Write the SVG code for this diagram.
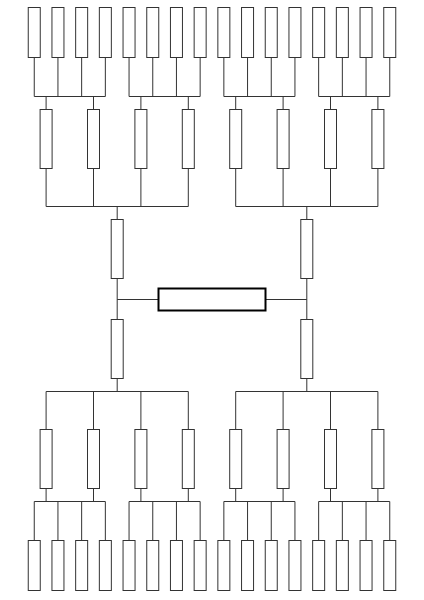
<svg xmlns="http://www.w3.org/2000/svg" width="424" height="600" viewBox="0 0 424 600">
<style>
.b{fill:#fff;stroke:#333;stroke-width:1}
.c{fill:#fff;stroke:#000;stroke-width:2}
.w{fill:none;stroke:#333;stroke-width:1}
</style>
<rect width="424" height="600" fill="#fff"/>
<g id="connectors" class="w">
<path d="M34.25 57.5V96.5M57.95 57.5V96.5M81.65 57.5V96.5M105.35 57.5V96.5M129.05 57.5V96.5M152.75 57.5V96.5M176.45 57.5V96.5M200.15 57.5V96.5M223.85 57.5V96.5M247.55 57.5V96.5M271.25 57.5V96.5M294.95 57.5V96.5M318.65 57.5V96.5M342.35 57.5V96.5M366.05 57.5V96.5M389.75 57.5V96.5"/>
<path d="M34.25 96.5H105.35M129.05 96.5H200.15M223.85 96.5H294.95M318.65 96.5H389.75"/>
<path d="M46.1 96.5V109.5M93.5 96.5V109.5M140.9 96.5V109.5M188.3 96.5V109.5M235.7 96.5V109.5M283.1 96.5V109.5M330.5 96.5V109.5M377.9 96.5V109.5"/>
<path d="M46.1 168.5V206.5M93.5 168.5V206.5M140.9 168.5V206.5M188.3 168.5V206.5M235.7 168.5V206.5M283.1 168.5V206.5M330.5 168.5V206.5M377.9 168.5V206.5"/>
<path d="M46.1 206.5H188.3M235.7 206.5H377.9M117.2 206.5V219.5M306.8 206.5V219.5"/>
<path d="M117.2 278.5V319.5M306.8 278.5V319.5M117.2 299.5H158.5M265.5 299.5H306.8"/>
<path d="M117.2 378.5V391.5M306.8 378.5V391.5M46.1 391.5H188.3M235.7 391.5H377.9"/>
<path d="M46.1 391.5V429.5M93.5 391.5V429.5M140.9 391.5V429.5M188.3 391.5V429.5M235.7 391.5V429.5M283.1 391.5V429.5M330.5 391.5V429.5M377.9 391.5V429.5"/>
<path d="M46.1 488.5V501.5M93.5 488.5V501.5M140.9 488.5V501.5M188.3 488.5V501.5M235.7 488.5V501.5M283.1 488.5V501.5M330.5 488.5V501.5M377.9 488.5V501.5"/>
<path d="M34.25 501.5H105.35M129.05 501.5H200.15M223.85 501.5H294.95M318.65 501.5H389.75"/>
<path d="M34.25 501.5V540.5M57.95 501.5V540.5M81.65 501.5V540.5M105.35 501.5V540.5M129.05 501.5V540.5M152.75 501.5V540.5M176.45 501.5V540.5M200.15 501.5V540.5M223.85 501.5V540.5M247.55 501.5V540.5M271.25 501.5V540.5M294.95 501.5V540.5M318.65 501.5V540.5M342.35 501.5V540.5M366.05 501.5V540.5M389.75 501.5V540.5"/>
</g>
<g id="top-leaves">
<rect id="t1" class="b" x="28.25" y="7.5" width="12" height="50"/>
<rect id="t2" class="b" x="51.95" y="7.5" width="12" height="50"/>
<rect id="t3" class="b" x="75.65" y="7.5" width="12" height="50"/>
<rect id="t4" class="b" x="99.35" y="7.5" width="12" height="50"/>
<rect id="t5" class="b" x="123.05" y="7.5" width="12" height="50"/>
<rect id="t6" class="b" x="146.75" y="7.5" width="12" height="50"/>
<rect id="t7" class="b" x="170.45" y="7.5" width="12" height="50"/>
<rect id="t8" class="b" x="194.15" y="7.5" width="12" height="50"/>
<rect id="t9" class="b" x="217.85" y="7.5" width="12" height="50"/>
<rect id="t10" class="b" x="241.55" y="7.5" width="12" height="50"/>
<rect id="t11" class="b" x="265.25" y="7.5" width="12" height="50"/>
<rect id="t12" class="b" x="288.95" y="7.5" width="12" height="50"/>
<rect id="t13" class="b" x="312.65" y="7.5" width="12" height="50"/>
<rect id="t14" class="b" x="336.35" y="7.5" width="12" height="50"/>
<rect id="t15" class="b" x="360.05" y="7.5" width="12" height="50"/>
<rect id="t16" class="b" x="383.75" y="7.5" width="12" height="50"/>
</g>
<g id="top-mid">
<rect id="tm1" class="b" x="40.1" y="109.5" width="12" height="59"/>
<rect id="tm2" class="b" x="87.5" y="109.5" width="12" height="59"/>
<rect id="tm3" class="b" x="134.9" y="109.5" width="12" height="59"/>
<rect id="tm4" class="b" x="182.3" y="109.5" width="12" height="59"/>
<rect id="tm5" class="b" x="229.7" y="109.5" width="12" height="59"/>
<rect id="tm6" class="b" x="277.1" y="109.5" width="12" height="59"/>
<rect id="tm7" class="b" x="324.5" y="109.5" width="12" height="59"/>
<rect id="tm8" class="b" x="371.9" y="109.5" width="12" height="59"/>
</g>
<g id="semi">
<rect id="s1" class="b" x="111.2" y="219.5" width="12" height="59"/>
<rect id="s2" class="b" x="300.8" y="219.5" width="12" height="59"/>
<rect id="s3" class="b" x="111.2" y="319.5" width="12" height="59"/>
<rect id="s4" class="b" x="300.8" y="319.5" width="12" height="59"/>
</g>
<g id="final">
<rect id="center" class="c" x="158.5" y="288.5" width="107" height="22"/>
</g>
<g id="bottom-mid">
<rect id="bm1" class="b" x="40.1" y="429.5" width="12" height="59"/>
<rect id="bm2" class="b" x="87.5" y="429.5" width="12" height="59"/>
<rect id="bm3" class="b" x="134.9" y="429.5" width="12" height="59"/>
<rect id="bm4" class="b" x="182.3" y="429.5" width="12" height="59"/>
<rect id="bm5" class="b" x="229.7" y="429.5" width="12" height="59"/>
<rect id="bm6" class="b" x="277.1" y="429.5" width="12" height="59"/>
<rect id="bm7" class="b" x="324.5" y="429.5" width="12" height="59"/>
<rect id="bm8" class="b" x="371.9" y="429.5" width="12" height="59"/>
</g>
<g id="bottom-leaves">
<rect id="b1" class="b" x="28.25" y="540.5" width="12" height="50"/>
<rect id="b2" class="b" x="51.95" y="540.5" width="12" height="50"/>
<rect id="b3" class="b" x="75.65" y="540.5" width="12" height="50"/>
<rect id="b4" class="b" x="99.35" y="540.5" width="12" height="50"/>
<rect id="b5" class="b" x="123.05" y="540.5" width="12" height="50"/>
<rect id="b6" class="b" x="146.75" y="540.5" width="12" height="50"/>
<rect id="b7" class="b" x="170.45" y="540.5" width="12" height="50"/>
<rect id="b8" class="b" x="194.15" y="540.5" width="12" height="50"/>
<rect id="b9" class="b" x="217.85" y="540.5" width="12" height="50"/>
<rect id="b10" class="b" x="241.55" y="540.5" width="12" height="50"/>
<rect id="b11" class="b" x="265.25" y="540.5" width="12" height="50"/>
<rect id="b12" class="b" x="288.95" y="540.5" width="12" height="50"/>
<rect id="b13" class="b" x="312.65" y="540.5" width="12" height="50"/>
<rect id="b14" class="b" x="336.35" y="540.5" width="12" height="50"/>
<rect id="b15" class="b" x="360.05" y="540.5" width="12" height="50"/>
<rect id="b16" class="b" x="383.75" y="540.5" width="12" height="50"/>
</g>
</svg>
